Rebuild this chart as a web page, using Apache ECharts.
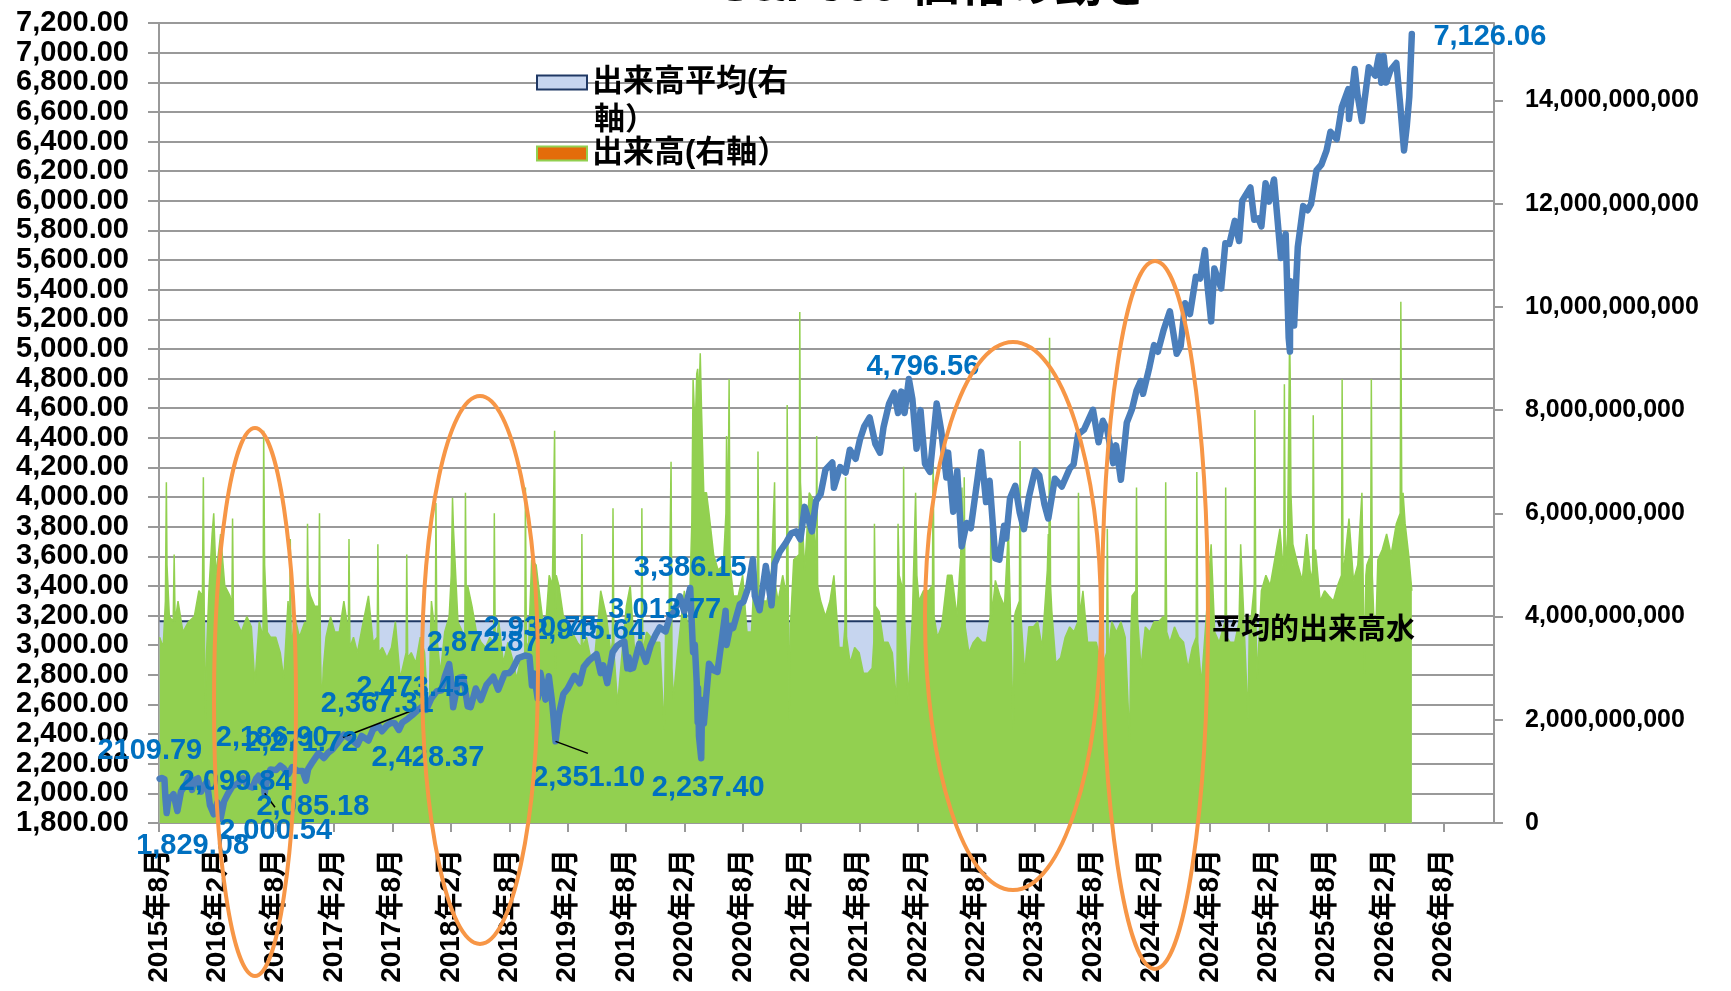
<!DOCTYPE html>
<html>
<head>
<meta charset="utf-8">
<script src="https://cdn.jsdelivr.net/npm/echarts@6/dist/echarts.min.js"></script>
<style>
  html, body { margin: 0; padding: 0; background: #fff; }
  #main { width: 1731px; height: 991px; }
</style>
</head>
<body>
<div id="main"></div>
<script>
// S&P500 index (left axis)
const priceDates = [
  '2015-08-03','2015-08-10','2015-08-18','2015-08-21','2015-08-25','2015-08-31','2015-09-08','2015-09-16','2015-09-28','2015-10-09',
  '2015-10-22','2015-11-03','2015-11-13','2015-11-20','2015-12-01','2015-12-11','2015-12-17','2015-12-29','2016-01-08','2016-01-20',
  '2016-02-01','2016-02-11','2016-02-22','2016-03-04','2016-03-18','2016-04-04','2016-04-20','2016-05-05','2016-05-19','2016-05-31',
  '2016-06-08','2016-06-16','2016-06-23','2016-06-27','2016-07-08','2016-07-15','2016-08-02','2016-08-15','2016-08-26','2016-09-09',
  '2016-09-22','2016-10-07','2016-10-24','2016-11-04','2016-11-11','2016-11-25','2016-12-13','2016-12-30','2017-01-13','2017-01-26',
  '2017-02-15','2017-03-01','2017-03-21','2017-04-13','2017-04-26','2017-05-17','2017-06-01','2017-06-19','2017-06-29','2017-07-14',
  '2017-07-27','2017-08-08','2017-08-21','2017-09-01','2017-09-18','2017-10-02','2017-10-18','2017-11-08','2017-11-15','2017-12-01',
  '2017-12-18','2018-01-02','2018-01-12','2018-01-26','2018-02-02','2018-02-08','2018-02-26','2018-03-09','2018-03-23','2018-04-02',
  '2018-04-18','2018-05-03','2018-05-21','2018-06-12','2018-06-27','2018-07-17','2018-08-01','2018-08-10','2018-08-29','2018-09-20',
  '2018-10-03','2018-10-11','2018-10-17','2018-10-29','2018-11-07','2018-11-23','2018-12-03','2018-12-14','2018-12-24','2019-01-04',
  '2019-01-18','2019-02-01','2019-02-22','2019-03-08','2019-03-21','2019-04-05','2019-04-30','2019-05-03','2019-05-13','2019-05-21',
  '2019-06-03','2019-06-20','2019-07-03','2019-07-15','2019-07-26','2019-08-05','2019-08-09','2019-08-14','2019-08-23','2019-09-12',
  '2019-10-02','2019-10-17','2019-11-01','2019-11-15','2019-12-03','2019-12-16','2019-12-31','2020-01-17','2020-01-31','2020-02-19',
  '2020-02-28','2020-03-03','2020-03-09','2020-03-12','2020-03-13','2020-03-16','2020-03-23','2020-03-26','2020-04-01','2020-04-17',
  '2020-05-01','2020-05-13','2020-06-08','2020-06-11','2020-06-23','2020-07-01','2020-07-22','2020-08-03','2020-08-18','2020-09-02',
  '2020-09-08','2020-09-23','2020-10-12','2020-10-30','2020-11-09','2020-11-25','2020-12-15','2020-12-31','2021-01-15','2021-01-29',
  '2021-02-12','2021-03-04','2021-03-17','2021-04-01','2021-04-16','2021-05-07','2021-05-12','2021-06-01','2021-06-18','2021-07-01',
  '2021-07-19','2021-08-02','2021-08-16','2021-09-02','2021-09-20','2021-10-04','2021-10-15','2021-11-02','2021-11-18','2021-11-30',
  '2021-12-10','2021-12-20','2022-01-03','2022-01-14','2022-01-27','2022-02-09','2022-02-23','2022-03-08','2022-03-29','2022-04-13',
  '2022-04-29','2022-05-04','2022-05-20','2022-06-02','2022-06-16','2022-07-01','2022-07-14','2022-08-16','2022-09-01','2022-09-12',
  '2022-09-30','2022-10-12','2022-10-27','2022-11-03','2022-11-15','2022-12-01','2022-12-15','2022-12-28','2023-01-13','2023-02-02',
  '2023-02-15','2023-03-01','2023-03-13','2023-04-03','2023-04-25','2023-05-19','2023-06-01','2023-06-15','2023-07-03','2023-07-31',
  '2023-08-18','2023-09-01','2023-09-15','2023-10-03','2023-10-12','2023-10-27','2023-11-15','2023-12-01','2023-12-15','2023-12-28',
  '2024-01-05','2024-01-24','2024-02-09','2024-02-21','2024-03-08','2024-03-28','2024-04-19','2024-05-01','2024-05-15','2024-05-30',
  '2024-06-18','2024-07-01','2024-07-16','2024-07-24','2024-08-05','2024-08-15','2024-09-06','2024-09-19','2024-10-01','2024-10-18',
  '2024-11-01','2024-11-11','2024-12-06','2024-12-18','2024-12-31','2025-01-10','2025-01-23','2025-02-03','2025-02-19','2025-03-10',
  '2025-03-25','2025-04-04','2025-04-08','2025-04-09','2025-04-21','2025-05-02','2025-05-19','2025-06-02','2025-06-13','2025-06-30',
  '2025-07-15','2025-07-31','2025-08-13','2025-09-02','2025-09-18','2025-10-08','2025-10-10','2025-10-28','2025-11-06','2025-11-20',
  '2025-12-11','2025-12-31','2026-01-12','2026-01-20','2026-01-27','2026-02-05','2026-02-18','2026-03-06','2026-03-18','2026-03-30',
  '2026-04-08','2026-04-16','2026-04-24'
];
const priceValues = [
  2098,2104,2096,1971,1867,1972,1969,1995,1881,2014,
  2052,2109.79,2023,2089,2102,2012,2041,2078,1922,1859,
  1939,1829.08,1946,1999,2049,2066,2102,2050,2040,2099.84,
  2119,2077,2113,2000.54,2130,2161,2157,2186.9,2169,2128,
  2177,2153,2151,2085.18,2164,2213,2271.72,2239,2275,2297,
  2349,2396,2367.31,2329,2388,2357,2431,2453,2419,2459,
  2477,2473.45,2428.37,2477,2503,2529,2561,2594,2564,2642,
  2690,2696,2786,2872.87,2762,2581,2780,2786,2588,2582,
  2708,2630,2733,2787,2700,2809,2813,2833,2914,2930.75,
  2925,2728,2809,2641,2814,2633,2790,2600,2351.1,2532,
  2671,2707,2793,2743,2855,2893,2940,2945.64,2812,2864,
  2744,2954,2996,3013.77,3026,2844,2919,2840,2847,3009,
  2888,2998,3067,3120,3093,3191,3231,3330,3226,3386.15,
  2954,3003,2747,2481,2711,2386,2237.4,2630,2471,2875,
  2831,2820,3232,3002,3131,3116,3276,3294,3390,3580,
  3332,3237,3535,3270,3550,3630,3694,3756,3768,3714,
  3934,3768,3974,4020,4185,4233,4063,4202,4166,4320,
  4258,4387,4479,4537,4358,4300,4471,4631,4705,4567,
  4712,4568,4796.56,4662,4326,4587,4225,4170,4631,4446,
  4132,4300,3901,4176,3667,3825,3790,4305,3966,4110,
  3586,3577,3807,3720,3992,4076,3895,3783,3999,4179,
  4147,3951,3855,4124,4071,4192,4221,4425,4455,4589,
  4370,4515,4450,4229,4349,4117,4502,4594,4719,4783,
  4697,4868,5026,4981,5124,5254,4967,5018,5308,5235,
  5487,5475,5667,5427,5186,5543,5408,5713,5709,5864,
  5728,6001,6090,5872,5882,5827,6119,5994,6144,5614,
  5777,5074,4982,5457,5158,5687,5964,5936,5977,6205,
  6244,6339,6466,6416,6632,6753,6552,6890,6720,6538,
  6901,6845,6977,6797,6978,6798,6881,6930,6650,6340,
  6500,6700,7126.06
];

// trading volume (right axis), in billions of shares
const volDates = [
  '2015-08-03','2015-08-14','2015-08-21','2015-08-24','2015-08-26','2015-09-03','2015-09-15','2015-09-18','2015-09-21','2015-09-30',
  '2015-10-15','2015-11-02','2015-11-20','2015-12-04','2015-12-15','2015-12-18','2015-12-21','2015-12-24','2015-12-28','2016-01-05',
  '2016-01-15','2016-01-20','2016-01-27','2016-02-01','2016-02-11','2016-02-24','2016-03-10','2016-03-16','2016-03-18','2016-03-21',
  '2016-04-01','2016-04-15','2016-05-02','2016-05-16','2016-05-27','2016-06-10','2016-06-22','2016-06-24','2016-06-27','2016-07-05',
  '2016-07-15','2016-08-01','2016-08-15','2016-08-26','2016-09-09','2016-09-14','2016-09-16','2016-09-19','2016-09-30','2016-10-14',
  '2016-11-01','2016-11-07','2016-11-09','2016-11-11','2016-11-18','2016-12-01','2016-12-14','2016-12-16','2016-12-19','2016-12-23',
  '2016-12-28','2017-01-06','2017-01-20','2017-02-03','2017-02-17','2017-03-01','2017-03-15','2017-03-17','2017-03-20','2017-03-31',
  '2017-04-13','2017-04-28','2017-05-17','2017-06-01','2017-06-14','2017-06-16','2017-06-19','2017-06-30','2017-07-14','2017-07-28',
  '2017-08-10','2017-08-25','2017-09-13','2017-09-15','2017-09-18','2017-09-29','2017-10-13','2017-10-27','2017-11-10','2017-11-24',
  '2017-11-28','2017-12-01','2017-12-13','2017-12-15','2017-12-18','2017-12-29','2018-01-12','2018-01-26','2018-02-02','2018-02-06',
  '2018-02-09','2018-02-23','2018-03-14','2018-03-16','2018-03-19','2018-03-23','2018-04-06','2018-04-20','2018-05-04','2018-05-18',
  '2018-06-01','2018-06-13','2018-06-15','2018-06-18','2018-06-29','2018-07-13','2018-07-27','2018-08-10','2018-08-24','2018-09-07',
  '2018-09-19','2018-09-21','2018-09-24','2018-10-01','2018-10-10','2018-10-24','2018-11-07','2018-11-21','2018-12-04','2018-12-14',
  '2018-12-21','2018-12-24','2018-12-26','2019-01-04','2019-01-18','2019-02-01','2019-02-15','2019-03-01','2019-03-13','2019-03-15',
  '2019-03-18','2019-03-29','2019-04-12','2019-04-26','2019-05-13','2019-05-31','2019-06-14','2019-06-19','2019-06-21','2019-06-24',
  '2019-07-05','2019-07-19','2019-08-02','2019-08-14','2019-08-30','2019-09-13','2019-09-18','2019-09-20','2019-09-23','2019-10-04',
  '2019-10-18','2019-11-01','2019-11-15','2019-11-29','2019-12-03','2019-12-13','2019-12-20','2019-12-23','2019-12-27','2020-01-10',
  '2020-01-31','2020-02-14','2020-02-24','2020-02-28','2020-03-04','2020-03-09','2020-03-12','2020-03-16','2020-03-20','2020-03-24',
  '2020-03-31','2020-04-09','2020-04-17','2020-05-01','2020-05-15','2020-06-01','2020-06-09','2020-06-11','2020-06-15','2020-06-19',
  '2020-06-22','2020-07-02','2020-07-17','2020-07-31','2020-08-14','2020-08-28','2020-09-08','2020-09-16','2020-09-18','2020-09-21',
  '2020-10-02','2020-10-16','2020-10-30','2020-11-09','2020-11-12','2020-11-20','2020-12-04','2020-12-16','2020-12-18','2020-12-21',
  '2020-12-24','2020-12-28','2021-01-08','2021-01-25','2021-01-27','2021-01-29','2021-02-12','2021-02-26','2021-03-05','2021-03-17',
  '2021-03-19','2021-03-22','2021-04-01','2021-04-16','2021-04-30','2021-05-12','2021-05-28','2021-06-11','2021-06-16','2021-06-18',
  '2021-06-21','2021-07-02','2021-07-16','2021-07-30','2021-08-13','2021-08-27','2021-09-10','2021-09-15','2021-09-17','2021-09-20',
  '2021-10-01','2021-10-15','2021-10-29','2021-11-12','2021-11-26','2021-11-30','2021-12-03','2021-12-15','2021-12-17','2021-12-20',
  '2021-12-31','2022-01-14','2022-01-24','2022-01-28','2022-02-04','2022-02-18','2022-03-04','2022-03-16','2022-03-18','2022-03-21',
  '2022-04-01','2022-04-14','2022-05-02','2022-05-16','2022-06-01','2022-06-13','2022-06-17','2022-06-21','2022-06-24','2022-06-27',
  '2022-07-08','2022-07-22','2022-08-05','2022-08-19','2022-09-02','2022-09-14','2022-09-16','2022-09-19','2022-09-30','2022-10-14',
  '2022-10-28','2022-11-10','2022-11-25','2022-11-29','2022-12-02','2022-12-14','2022-12-16','2022-12-19','2022-12-30','2023-01-13',
  '2023-01-27','2023-02-10','2023-02-24','2023-03-10','2023-03-13','2023-03-15','2023-03-17','2023-03-20','2023-03-24','2023-04-06',
  '2023-04-21','2023-05-05','2023-05-19','2023-06-02','2023-06-14','2023-06-16','2023-06-20','2023-06-30','2023-07-14','2023-07-28',
  '2023-08-11','2023-08-25','2023-09-08','2023-09-13','2023-09-15','2023-09-18','2023-09-29','2023-10-13','2023-10-27','2023-11-10',
  '2023-11-24','2023-11-28','2023-12-01','2023-12-13','2023-12-15','2023-12-18','2023-12-29','2024-01-12','2024-01-26','2024-02-09',
  '2024-02-23','2024-03-08','2024-03-13','2024-03-15','2024-03-18','2024-03-28','2024-04-12','2024-04-26','2024-05-10','2024-05-24',
  '2024-06-07','2024-06-19','2024-06-21','2024-06-24','2024-07-05','2024-07-19','2024-08-05','2024-08-16','2024-08-30','2024-09-13',
  '2024-09-18','2024-09-20','2024-09-23','2024-10-04','2024-10-18','2024-11-01','2024-11-06','2024-11-15','2024-11-29','2024-12-03',
  '2024-12-06','2024-12-18','2024-12-20','2024-12-23','2024-12-27','2025-01-10','2025-01-24','2025-02-07','2025-02-21','2025-03-07',
  '2025-03-19','2025-03-21','2025-03-24','2025-03-31','2025-04-04','2025-04-07','2025-04-09','2025-04-11','2025-04-17','2025-05-02',
  '2025-05-16','2025-05-30','2025-06-13','2025-06-18','2025-06-20','2025-06-23','2025-06-27','2025-07-11','2025-07-25','2025-08-08',
  '2025-08-22','2025-09-05','2025-09-17','2025-09-19','2025-09-22','2025-09-26','2025-10-10','2025-10-24','2025-11-07','2025-11-20',
  '2025-11-28','2025-12-02','2025-12-05','2025-12-17','2025-12-19','2025-12-22','2025-12-31','2026-01-09','2026-01-23','2026-02-06',
  '2026-02-20','2026-03-06','2026-03-18','2026-03-20','2026-03-23','2026-03-27','2026-04-03','2026-04-14','2026-04-24'
];
const volValues = [
  3.6,3.4,4.3,6.6,5.0,4.0,3.9,5.2,3.9,4.3,
  3.7,3.9,4.0,4.5,4.4,6.7,3.9,2.0,3.3,4.5,
  5.6,6.0,4.8,4.8,5.6,4.6,4.4,4.2,5.9,3.9,
  3.9,3.7,4.0,3.8,2.7,3.9,3.6,7.6,5.0,3.7,
  3.6,3.6,3.3,2.8,4.3,3.7,5.5,3.4,4.0,3.6,
  3.9,3.8,5.8,4.6,4.4,4.2,4.2,6.0,3.3,2.2,
  3.0,3.6,4.0,3.7,3.7,4.3,3.7,5.5,3.4,3.6,
  3.3,3.8,4.4,3.5,3.6,5.4,3.3,3.4,3.2,3.4,
  3.9,2.8,3.3,5.2,3.2,3.3,3.1,3.6,3.3,1.8,
  3.6,4.3,3.6,6.2,3.6,2.9,3.7,4.0,4.8,6.3,
  5.7,3.9,3.6,6.4,4.0,4.6,4.2,3.7,3.5,3.4,
  3.6,3.5,6.0,3.4,3.9,3.1,3.5,3.2,2.8,3.2,
  3.3,6.5,3.4,3.5,5.1,5.0,4.3,3.6,4.8,4.6,
  7.6,3.0,4.8,4.6,4.0,3.9,3.7,3.5,3.4,5.6,
  3.4,3.6,3.2,3.3,4.5,4.0,3.3,3.5,6.1,3.3,
  2.3,3.3,4.2,4.6,3.1,3.7,3.5,6.1,3.3,3.7,
  3.6,3.5,3.5,1.8,3.8,3.6,7.0,3.0,2.4,3.3,
  4.5,3.6,5.8,8.6,7.6,8.7,8.8,8.2,9.1,8.0,
  6.4,6.4,6.0,5.2,4.9,5.0,6.0,7.5,5.5,8.6,
  5.0,4.4,4.4,4.8,3.7,3.7,5.0,4.5,7.2,4.5,
  4.3,4.3,4.9,6.6,4.6,4.3,4.8,4.4,8.1,4.8,
  2.0,3.8,5.1,5.2,9.9,6.6,4.9,6.4,6.3,5.0,
  7.5,4.6,4.3,4.0,4.3,4.8,3.4,3.4,3.8,6.7,
  3.6,3.1,3.4,3.3,2.9,2.9,3.0,3.5,5.8,4.2,
  4.1,3.5,3.5,3.3,2.3,5.8,4.8,4.5,6.9,4.0,
  2.4,4.0,6.4,4.8,4.3,4.5,4.5,4.6,7.5,4.0,
  3.6,3.8,4.8,4.8,4.0,5.2,6.5,4.2,6.7,3.8,
  3.3,3.5,3.6,3.5,3.5,4.0,6.3,4.0,4.7,4.4,
  4.2,5.7,1.8,4.0,4.1,4.3,7.4,4.0,2.9,3.8,
  3.8,3.9,3.4,4.9,5.6,5.0,9.4,4.6,4.1,3.1,
  3.2,3.6,3.8,3.7,3.9,6.4,4.0,4.5,3.5,3.5,
  3.5,3.1,3.2,3.3,5.7,3.3,3.9,3.7,3.9,3.6,
  1.6,3.7,4.4,4.5,6.5,4.0,3.0,3.8,3.7,3.9,
  3.9,4.0,3.8,6.6,3.7,3.5,3.8,3.6,3.5,3.0,
  3.4,3.6,6.8,3.5,2.7,3.9,5.4,3.7,3.5,3.8,
  3.9,6.5,3.6,3.5,3.5,3.9,5.4,4.1,2.0,4.0,
  3.8,4.6,8.0,3.9,2.8,4.5,4.8,4.6,5.1,5.7,
  4.8,8.5,4.9,5.6,7.6,9.5,8.5,6.4,5.4,5.0,
  4.7,5.6,4.7,4.9,7.9,4.8,5.3,4.3,4.5,4.4,
  4.3,4.6,4.8,8.6,4.6,5.0,5.9,4.7,5.0,6.4,
  2.9,4.8,5.0,5.2,8.6,4.8,3.3,5.1,5.3,5.6,
  5.2,5.8,6.0,10.1,6.2,6.4,5.8,5.2,4.5
];

// average volume (right axis), billions of shares
const avgDates = ['2015-08-03', '2026-04-24'];
const avgValues = [3.91, 3.91];

// data labels on the index line
const labelDates = [
  '2015-11-03','2016-02-11','2016-05-31','2016-06-27','2016-08-15','2016-12-13','2016-11-04','2017-03-21','2017-08-08','2017-08-21',
  '2018-01-26','2018-09-20','2019-05-03','2018-12-24','2019-07-15','2020-02-19','2020-03-23','2022-01-03','2026-04-24'
];
const labelValues = [
  2109.79,1829.08,2099.84,2000.54,2186.90,2271.72,2085.18,2367.31,2473.45,2428.37,
  2872.87,2930.75,2945.64,2351.10,3013.77,3386.15,2237.40,4796.56,7126.06
];
const labelTexts = [
  '2109.79','1,829.08','2,099.84','2,000.54','2,186.90','2,271.72','2,085.18','2,367.31','2,473.45','2,428.37',
  '2,872.87','2,930.75','2,945.64','2,351.10','3,013.77','3,386.15','2,237.40','4,796.56','7,126.06'
];
// label placement (pixels from the point)
const labelOffsets = [
  [-39,-26],[-28,27],[-21,3],[11,38],[-8,-28],[-17,-10],[7,26],[27,-35],[18,-35],[29,28],
  [34,-21],[15,-27],[-9,-22],[33,37],[44,-33],[0,-20],[7,30],[14,-12],[78,3]
];
// leader lines, [month index, value] pairs
const leaderLines = [
  [[10.86, 2000.54], [11.92, 1906]],
  [[18.9, 2379], [26.1, 2561]],
  [[40.75, 2351.10], [44.08, 2270]]
];

const FONT = "'Liberation Sans', 'Noto Sans CJK JP', sans-serif";
const GRID = '#999999';

// months since 2015-08-01
function monthIndex(s) {
  const p = s.split('-').map(Number);
  return (p[0] - 2015) * 12 + (p[1] - 8) + (p[2] - 1) / 30.4;
}

const priceData = priceDates.map((d, i) => [monthIndex(d), priceValues[i]]);
const volData = volDates.map((d, i) => [monthIndex(d), volValues[i] * 1e9]);
const avgData = avgDates.map((d, i) => [monthIndex(d), avgValues[i] * 1e9]);
const labelData = labelDates.map((d, i) => [monthIndex(d), labelValues[i]]);

const chart = echarts.init(document.getElementById('main'));

const option = {
  animation: false,
  backgroundColor: '#ffffff',
  textStyle: { fontFamily: FONT },
  grid: { left: 159, right: 237, top: 23, bottom: 168 },
  legend: {
    orient: 'vertical',
    left: 531,
    top: 62,
    icon: 'rect',
    itemWidth: 50,
    itemHeight: 14,
    itemGap: 40,
    selectedMode: false,
    data: [
      { name: '出来高平均(右軸）', itemStyle: { color: '#C6D5EF', borderColor: '#1F3864', borderWidth: 2 } },
      { name: '出来高(右軸）', itemStyle: { color: '#E46C0A', borderColor: '#92D050', borderWidth: 2 } }
    ],
    formatter: function (name) {
      return name === '出来高平均(右軸）' ? '出来高平均(右' : name;
    },
    textStyle: { fontSize: 31, fontWeight: 'bold', color: '#000', fontFamily: FONT }
  },
  xAxis: {
    type: 'value',
    min: 0,
    max: 137.2,
    interval: 6,
    splitLine: { show: false },
    axisLine: { lineStyle: { color: GRID, width: 2 } },
    axisTick: { show: true, length: 9, lineStyle: { color: GRID, width: 2 } },
    axisLabel: {
      rotate: 90,
      margin: 26,
      fontSize: 28,
      fontWeight: 'bold',
      color: '#000',
      fontFamily: FONT,
      showMinLabel: true,
      showMaxLabel: false,
      formatter: function (v) {
        if (Math.abs(v % 6) > 0.001) return '';
        const t = 7 + Math.round(v);
        return (2015 + Math.floor(t / 12)) + '年' + (t % 12 + 1) + '月';
      }
    }
  },
  yAxis: [
    {
      type: 'value',
      min: 1800,
      max: 7200,
      interval: 200,
      axisLine: { show: true, lineStyle: { color: GRID, width: 2 } },
      axisTick: { show: true, length: 11, lineStyle: { color: GRID, width: 2 } },
      splitLine: { lineStyle: { color: GRID, width: 2 } },
      axisLabel: {
        margin: 30,
        fontSize: 29,
        fontWeight: 'bold',
        color: '#000',
        fontFamily: FONT,
        showMinLabel: true,
        showMaxLabel: true,
        hideOverlap: false,
        formatter: v => v.toLocaleString('en-US', { minimumFractionDigits: 2, maximumFractionDigits: 2 })
      }
    },
    {
      type: 'value',
      position: 'right',
      min: 0,
      max: 15.5e9,
      interval: 2e9,
      axisLine: { show: true, lineStyle: { color: GRID, width: 2 } },
      axisTick: { show: true, length: 9, lineStyle: { color: GRID, width: 2 } },
      splitLine: { show: false },
      axisLabel: {
        margin: 31,
        fontSize: 25,
        fontWeight: 'bold',
        color: '#000',
        fontFamily: FONT,
        showMinLabel: true,
        showMaxLabel: false,
        formatter: v => v > 14.5e9 ? '' : v.toLocaleString('en-US')
      }
    }
  ],
  series: [
    {
      name: '出来高平均(右軸）',
      type: 'line',
      yAxisIndex: 1,
      data: avgData,
      symbol: 'none',
      lineStyle: { color: '#1F3864', width: 2 },
      itemStyle: { color: '#C6D5EF' },
      areaStyle: { color: '#C6D5EF', opacity: 1 },
      z: 1
    },
    {
      name: '出来高(右軸）',
      type: 'line',
      yAxisIndex: 1,
      data: volData,
      symbol: 'none',
      lineStyle: { color: '#92D050', width: 1.5 },
      itemStyle: { color: '#92D050' },
      areaStyle: { color: '#92D050', opacity: 1 },
      z: 2
    },
    {
      name: 'S&P500',
      type: 'line',
      yAxisIndex: 0,
      data: priceData,
      symbol: 'none',
      lineStyle: { color: '#4A7EBB', width: 6.5, join: 'round', cap: 'round' },
      itemStyle: { color: '#4A7EBB' },
      markLine: {
        silent: true,
        symbol: 'none',
        label: { show: false },
        lineStyle: { color: '#000', width: 1.5, type: 'solid' },
        data: leaderLines.map(s => [{ coord: s[0] }, { coord: s[1] }])
      },
      z: 3
    },
    {
      name: 'labels',
      type: 'scatter',
      yAxisIndex: 0,
      data: labelData,
      symbolSize: 0,
      silent: true,
      itemStyle: { opacity: 1, color: '#0070C0' },
      label: {
        show: true,
        position: 'inside',
        fontSize: 29,
        fontWeight: 'bold',
        color: '#0070C0',
        opacity: 1,
        textBorderWidth: 0,
        textBorderColor: 'transparent',
        fontFamily: FONT,
        formatter: p => labelTexts[p.dataIndex]
      },
      labelLayout: function (p) {
        const o = labelOffsets[p.dataIndex];
        return { dx: o[0], dy: o[1] };
      },
      z: 5
    }
  ],
  graphic: [
    {
      type: 'text', left: 719, top: -36, z: 10,
      style: { text: 'S&P500 価格の動き', font: "bold 48px " + FONT, fill: '#000' }
    },
    {
      type: 'text', left: 594, top: 105, z: 10,
      style: { text: '軸）', font: "bold 31px " + FONT, fill: '#000' }
    },
    {
      type: 'text', left: 1212, top: 616, z: 10,
      style: { text: '平均的出来高水', font: "bold 29px " + FONT, fill: '#000' }
    },
    { type: 'ellipse', z: 20, shape: { cx: 255, cy: 702, rx: 41, ry: 274 }, style: { fill: 'none', stroke: '#F79646', lineWidth: 4 } },
    { type: 'ellipse', z: 20, shape: { cx: 480, cy: 670, rx: 58, ry: 274 }, style: { fill: 'none', stroke: '#F79646', lineWidth: 4 } },
    { type: 'ellipse', z: 20, shape: { cx: 1013, cy: 616, rx: 88, ry: 274 }, style: { fill: 'none', stroke: '#F79646', lineWidth: 4 } },
    { type: 'ellipse', z: 20, shape: { cx: 1155, cy: 615, rx: 53, ry: 354 }, style: { fill: 'none', stroke: '#F79646', lineWidth: 4 } }
  ]
};

chart.setOption(option);
</script>
</body>
</html>
